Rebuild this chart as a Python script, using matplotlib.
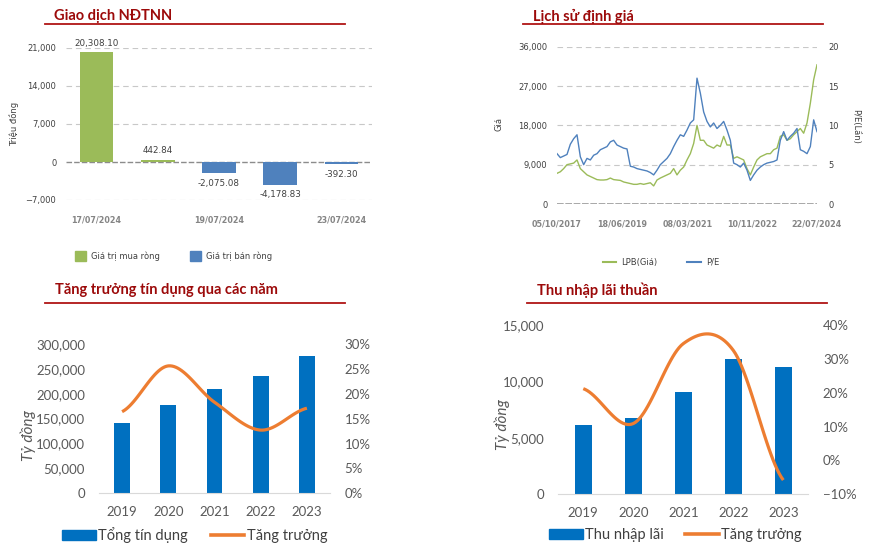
import matplotlib
matplotlib.use("Agg")
import matplotlib.pyplot as plt
import matplotlib.ticker as mticker
import numpy as np
import pandas as pd
from matplotlib.lines import Line2D
from matplotlib.patches import Patch

W, H = 893, 547

# --- Giao dịch NĐTNN (triệu đồng) ---
ndt_dates = ["17/07/2024", "18/07/2024", "19/07/2024", "22/07/2024", "23/07/2024"]
ndt_values = [20308.10, 442.84, -2075.08, -4178.83, -392.30]
ndt_yticks = [-7000, 0, 7000, 14000, 21000]
ndt_shown = ["17/07/2024", "19/07/2024", "23/07/2024"]

val_start, val_end = "2017-10-05", "2024-07-24"
lpb_price = [7020, 7380, 8100, 9000, 9180, 9360, 10080, 8100, 7380, 6660,
             6300, 5940, 5580, 5490, 5490, 5580, 5940, 5580, 5490, 5400,
             5040, 4860, 4680, 4500, 4500, 4680, 4500, 4680, 4860, 4140,
             5490, 5940, 6300, 6660, 7020, 8100, 6660, 7740, 8460, 10080,
             11520, 13860, 18000, 14580, 14580, 13500, 13140, 12780, 13500, 13140,
             15480, 13500, 13500, 10440, 10800, 10440, 10080, 8100, 6660, 8460,
             10080, 10800, 11160, 11520, 11520, 12420, 12780, 15480, 15840, 14580,
             14940, 15840, 16560, 17280, 16200, 18540, 23040, 28440, 31860]
pe_ratio = [6.4, 5.9, 6.1, 6.3, 7.6, 8.3, 8.8, 6.0, 5.0, 5.8,
            5.6, 6.2, 6.4, 6.9, 7.1, 7.3, 7.9, 8.1, 7.5, 7.3,
            7.1, 7.0, 4.8, 4.7, 4.5, 4.4, 4.3, 4.2, 4.0, 3.7,
            4.3, 5.0, 5.4, 5.8, 6.4, 7.3, 8.1, 8.8, 8.6, 9.4,
            10.3, 10.7, 16.0, 14.1, 11.7, 10.5, 9.8, 10.3, 9.6, 10.0,
            10.5, 9.4, 8.1, 5.2, 5.0, 4.7, 5.2, 4.3, 3.0, 3.7,
            4.3, 4.7, 5.0, 5.2, 5.3, 5.4, 5.6, 8.1, 9.2, 8.1,
            8.6, 9.0, 9.6, 6.9, 6.7, 6.4, 7.3, 10.7, 9.2]
val_xticks = ["05/10/2017", "18/06/2019", "08/03/2021", "10/11/2022", "22/07/2024"]

# --- Tăng trưởng tín dụng / Thu nhập lãi thuần (tỷ đồng, %) ---
years = ["2019", "2020", "2021", "2022", "2023"]
credit_total = [142000, 177000, 209000, 236000, 276000]
credit_growth = [16.4, 25.6, 18.3, 12.7, 17.1]
nii_total = [6140, 6740, 9040, 11970, 11260]
nii_growth = [21.2, 10.9, 34.5, 32.5, -5.8]

RED = "#9C0A0A"
LINE_RED = "#B01515"
GREEN = "#9BBB59"
BLUE = "#4F81BD"
BAR_BLUE = "#0070C0"
ORANGE = "#ED7D31"
GREY = "#595959"


def px_axes(fig, left, top, right, bottom):
    return fig.add_axes([left / W, 1 - bottom / H, (right - left) / W, (bottom - top) / H])


def panel_title(fig, text, x, y, x0, x1, yline):
    fig.text(x / W, 1 - y / H, text, color=RED, fontsize=10.5, fontweight="bold",
             family="Lato", ha="left", va="center")
    fig.add_artist(Line2D([x0 / W, x1 / W], [1 - yline / H] * 2, color=LINE_RED, lw=1.3))


def smooth(vals, steps=24):
    # Catmull-Rom curve through the points, like Excel's "smoothed line"
    p = np.r_[vals[0], vals, vals[-1]].astype(float)
    xs, ys = [], []
    t = np.linspace(0, 1, steps, endpoint=False)
    for i in range(len(vals) - 1):
        p0, p1, p2, p3 = p[i:i + 4]
        y = 0.5 * (2 * p1 + (-p0 + p2) * t + (2 * p0 - 5 * p1 + 4 * p2 - p3) * t ** 2
                   + (-p0 + 3 * p1 - 3 * p2 + p3) * t ** 3)
        xs.append(i + t)
        ys.append(y)
    xs.append([len(vals) - 1])
    ys.append([vals[-1]])
    return np.concatenate(xs), np.concatenate(ys)


def clear_spines(ax):
    for s in ax.spines.values():
        s.set_visible(False)


fig = plt.figure(figsize=(W / 100, H / 100), dpi=100)

# ------------------------------------------------------------------ #
# Giao dịch NĐTNN
# ------------------------------------------------------------------ #
panel_title(fig, "Giao dịch NĐTNN", 54, 16, 45, 345, 24)
ax = px_axes(fig, 66, 48, 372, 200)
clear_spines(ax)
x = np.arange(len(ndt_values))
colors = [GREEN if v >= 0 else BLUE for v in ndt_values]
ax.bar(x, ndt_values, width=0.55, color=colors, zorder=3)
for xi, v in zip(x, ndt_values):
    off = 3 if v >= 0 else -4
    ax.annotate(f"{v:,.2f}", (xi, v), xytext=(0, off), textcoords="offset points",
                ha="center", va="bottom" if v >= 0 else "top", fontsize=6.3, color="#404040")
for yv in ndt_yticks:
    if yv == 0:
        ax.axhline(0, color="#8C8C8C", lw=1.0, ls=(0, (4, 1.5)), zorder=2)
    else:
        ax.axhline(yv, color="#C8C8C8", lw=0.8, ls=(0, (5, 3.5)), zorder=1)
ax.set_xlim(-0.5, 4.5)
ax.set_ylim(-7000, 21000)
ax.set_yticks(ndt_yticks)
ax.yaxis.set_major_formatter(mticker.StrMethodFormatter("{x:,.0f}"))
ax.set_xticks([ndt_dates.index(d) for d in ndt_shown])
ax.set_xticklabels(ndt_shown, fontweight="bold", color="#858585")
ax.tick_params(axis="y", length=0, pad=7, labelsize=6, labelcolor="#404040")
ax.tick_params(axis="x", length=0, pad=11, labelsize=5.8)
fig.text(14 / W, 1 - 124 / H, "Triệu đồng", rotation=90, fontsize=6, color="#404040",
         ha="center", va="center")
fig.legend([Patch(color=GREEN), Patch(color=BLUE)], ["Giá trị mua ròng", "Giá trị bán ròng"],
           loc="center left", bbox_to_anchor=(75 / W, 1 - 256 / H), ncol=2, frameon=False,
           fontsize=6, handlelength=1.35, handleheight=1.35, handletextpad=0.6,
           columnspacing=3.6, borderpad=0, borderaxespad=0, labelcolor="#404040")

# ------------------------------------------------------------------ #
# Lịch sử định giá
# ------------------------------------------------------------------ #
panel_title(fig, "Lịch sử định giá", 533, 16, 523, 823, 24)
ax = px_axes(fig, 557, 46.7, 817, 204)
clear_spines(ax)
dates = pd.date_range(val_start, val_end, periods=len(lpb_price))
for yv in [9000, 18000, 27000, 36000]:
    ax.axhline(yv, color="#C8C8C8", lw=0.8, ls=(0, (5, 3.5)), zorder=1)
ax.axhline(0, color="#9A9A9A", lw=1.2, ls=(0, (4, 1)), zorder=1)
ax.plot(dates, lpb_price, color=GREEN, lw=1.0, zorder=3)
ax.set_ylim(0, 36000)
ax.set_xlim(dates[0], dates[-1])
ax.set_yticks([0, 9000, 18000, 27000, 36000])
ax.yaxis.set_major_formatter(mticker.StrMethodFormatter("{x:,.0f}"))
tick_dates = pd.to_datetime(val_xticks, dayfirst=True)
ax.set_xticks(tick_dates)
ax.set_xticklabels(val_xticks, fontweight="bold", color="#858585")
ax.tick_params(axis="y", length=0, pad=7, labelsize=6, labelcolor="#404040")
ax.tick_params(axis="x", length=0, pad=11, labelsize=5.8)
ax2 = ax.twinx()
clear_spines(ax2)
ax2.plot(dates, pe_ratio, color=BLUE, lw=1.0, zorder=3)
ax2.set_ylim(0, 20)
ax2.set_yticks([0, 5, 10, 15, 20])
ax2.tick_params(axis="y", length=0, pad=8, labelsize=6, labelcolor="#404040")
fig.text(499 / W, 1 - 124 / H, "Giá", rotation=90, fontsize=6, color="#404040",
         ha="center", va="center")
fig.text(856 / W, 1 - 126 / H, "P/E(Lần)", rotation=-90, fontsize=6, color="#404040",
         ha="center", va="center")
fig.legend([Line2D([], [], color=GREEN, lw=1.5), Line2D([], [], color=BLUE, lw=1.5)],
           ["LPB(Giá)", "P/E"], loc="center left", bbox_to_anchor=(603 / W, 1 - 262 / H),
           ncol=2, frameon=False, fontsize=6, handlelength=1.6, handletextpad=0.6,
           columnspacing=3.6, borderpad=0, borderaxespad=0, labelcolor="#404040")


# ------------------------------------------------------------------ #
# bottom panels: bars + smoothed growth line
# ------------------------------------------------------------------ #
def combo_panel(box, totals, growth, ylim, yticks, gylim, gticks, ylabel_xy, legend_xy,
                labels, colspace):
    ax = px_axes(fig, *box)
    clear_spines(ax)
    ax.spines["bottom"].set_visible(True)
    ax.spines["bottom"].set_color("#D9D9D9")
    xi = np.arange(len(years))
    ax.bar(xi, totals, width=0.34, color=BAR_BLUE, zorder=2)
    ax.set_xlim(-0.5, len(years) - 0.5)
    ax.set_ylim(*ylim)
    ax.set_yticks(yticks)
    ax.yaxis.set_major_formatter(mticker.StrMethodFormatter("{x:,.0f}"))
    ax.set_xticks(xi)
    ax.set_xticklabels(years)
    ax.tick_params(length=0, labelsize=9.5, labelcolor=GREY)
    ax.tick_params(axis="y", pad=10)
    ax.tick_params(axis="x", pad=9)
    for lab in ax.get_xticklabels() + ax.get_yticklabels():
        lab.set_family("Lato")

    ax2 = ax.twinx()
    clear_spines(ax2)
    sx, sy = smooth(growth)
    ax2.plot(sx, sy / 100, color=ORANGE, lw=2.3, solid_capstyle="butt", zorder=3)
    ax2.set_ylim(*gylim)
    ax2.set_yticks(gticks)
    ax2.yaxis.set_major_formatter(mticker.PercentFormatter(1.0, decimals=0))
    ax2.tick_params(axis="y", length=0, pad=10.5, labelsize=9.5, labelcolor=GREY)
    for lab in ax2.get_yticklabels():
        lab.set_family("Lato")

    fig.text(ylabel_xy[0] / W, 1 - ylabel_xy[1] / H, "Tỷ đồng", rotation=90, fontsize=11,
             style="italic", color=GREY, family="Lato", ha="center", va="center")
    fig.legend([Patch(color=BAR_BLUE), Line2D([], [], color=ORANGE, lw=2.6)], labels,
               loc="center left", bbox_to_anchor=(legend_xy[0] / W, 1 - legend_xy[1] / H),
               ncol=2, frameon=False, prop={"family": "Lato", "size": 10.5},
               handlelength=2.3, handleheight=0.75, handletextpad=0.15,
               columnspacing=colspace, borderpad=0, borderaxespad=0, labelcolor="#404040")


panel_title(fig, "Tăng trưởng tín dụng qua các năm", 55, 290, 45, 345, 303)
combo_panel((99, 344, 330, 493.3), credit_total, credit_growth,
            (0, 300000), list(range(0, 300001, 50000)),
            (0, 0.30), [i / 100 for i in range(0, 31, 5)],
            (28, 436), (62, 535), ["Tổng tín dụng", "Tăng trưởng"], 1.6)

panel_title(fig, "Thu nhập lãi thuần", 537, 290, 527, 827, 303)
combo_panel((558.3, 325, 808.3, 494.3), nii_total, nii_growth,
            (0, 15000), [0, 5000, 10000, 15000],
            (-0.10, 0.40), [i / 100 for i in range(-10, 41, 10)],
            (502, 425), (549, 535), ["Thu nhập lãi", "Tăng trưởng"], 1.5)

fig.savefig("out.png", dpi=100, facecolor="white")
